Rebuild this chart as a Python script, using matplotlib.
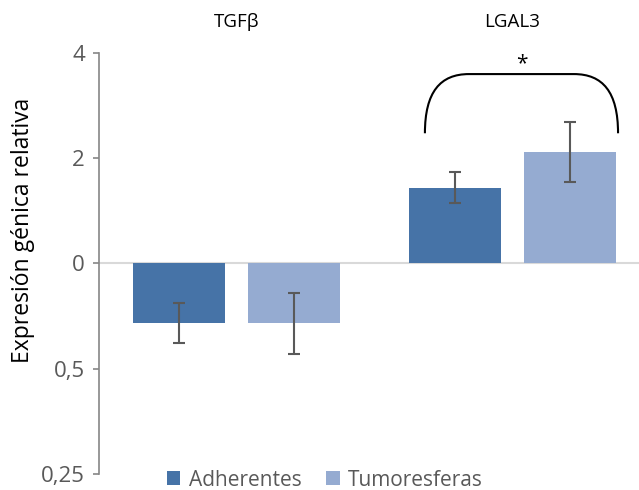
import numpy as np
import matplotlib.pyplot as plt
import matplotlib.transforms as mtransforms
from matplotlib.path import Path
from matplotlib.patches import PathPatch

# log2 relative expression
genes = ['TGFβ', 'LGAL3']
adherentes = [-0.57, 0.72]
adherentes_err = [0.19, 0.145]
tumoresferas = [-0.57, 1.06]
tumoresferas_err = [0.29, 0.285]
tick_pos = [2, 1, 0, -1, -2]
tick_labels = ['4', '2', '0', '0,5', '0,25']

c_adh = '#4673a7'
c_tum = '#95abd1'
grey = '#595959'

plt.rcParams['font.family'] = ['Open Sans', 'DejaVu Sans']

fig = plt.figure(figsize=(6.39, 4.9), dpi=100)
# plot area: x 99..650 px, y 52.7..474 px
ax = fig.add_axes([99/639, 1 - 474/490, 551/639, 421.3/490])

x = np.arange(len(genes))
w = 92/275.5
off = (92 + 23)/2/275.5
ax.bar(x - off, adherentes, w, color=c_adh, label='Adherentes', zorder=2)
ax.bar(x + off, tumoresferas, w, color=c_tum, label='Tumoresferas', zorder=2)
ax.errorbar(x - off, adherentes, yerr=adherentes_err, fmt='none', ecolor=grey,
            elinewidth=1.5, capsize=4, capthick=1.5, zorder=3)
ax.errorbar(x + off, tumoresferas, yerr=tumoresferas_err, fmt='none', ecolor=grey,
            elinewidth=1.5, capsize=4, capthick=1.5, zorder=3)

ax.axhline(0, color='#d9d9d9', lw=1.5, zorder=1)

ax.set_xlim(-0.5, 1.5)
ax.set_ylim(-2, 2)
ax.set_yticks(tick_pos)
ax.set_yticklabels(tick_labels, fontsize=16, color=grey)
ax.set_xticks([])
for s in ['top', 'right', 'bottom']:
    ax.spines[s].set_visible(False)
ax.spines['left'].set_color('#868686')
ax.spines['left'].set_linewidth(1.2)
ax.tick_params(axis='y', direction='out', length=4, width=1.2, color='#868686', pad=6)

ax.set_ylabel('Expresión génica relativa', fontsize=16.5, color='black')
ax.yaxis.set_label_coords(-0.116, 0.579)

trans = mtransforms.blended_transform_factory(ax.transData, fig.transFigure)
for i, g in enumerate(genes):
    ax.text(x[i], 1.0 - 22/490, g, transform=trans, ha='center', va='center', fontsize=13.5)

# significance bracket over LGAL3
x0, x1 = 1 - 0.317, 1 + 0.384
yb, yt = 1.235, 1.797
rx = 0.16
verts = [(x0, yb), (x0, yb + (yt - yb)*0.7), (x0 + rx*0.35, yt), (x0 + rx, yt),
         (x1 - rx, yt), (x1 - rx*0.35, yt), (x1, yb + (yt - yb)*0.7), (x1, yb)]
codes = [Path.MOVETO, Path.CURVE4, Path.CURVE4, Path.CURVE4,
         Path.LINETO, Path.CURVE4, Path.CURVE4, Path.CURVE4]
ax.add_patch(PathPatch(Path(verts, codes), fill=False, lw=1.5, color='black', clip_on=False))
ax.text((x0 + x1)/2, 1.9, '*', ha='center', va='center', fontsize=15)

leg = fig.legend(loc='center', bbox_to_anchor=(325/639, 1 - 480/490), ncol=2, frameon=False,
                 fontsize=15, handlelength=0.65, handleheight=0.65, handletextpad=0.4,
                 columnspacing=1.2)
for t in leg.get_texts():
    t.set_color(grey)

fig.savefig('out.png', dpi=100)
